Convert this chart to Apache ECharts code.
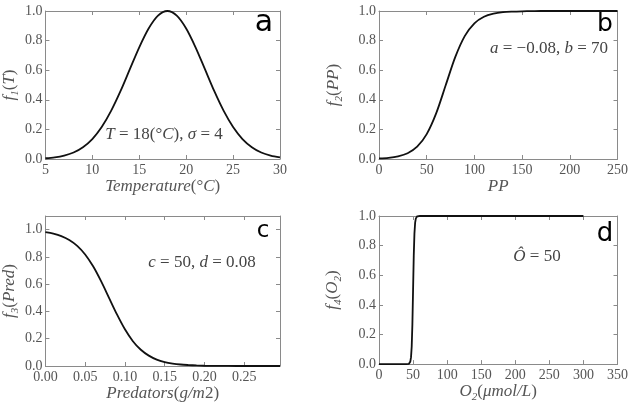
<!DOCTYPE html>
<html>
<head>
<meta charset="utf-8">
<script src="https://cdn.jsdelivr.net/npm/echarts@6/dist/echarts.min.js"></script>
<style>
  html, body { margin: 0; background: #fff; }
  #chart { width: 631px; height: 404px; }
</style>
</head>
<body>
<div id="chart"></div>
<script>
// 数据
const tempX = [5, 6, 7, 8, 9, 10, 11, 12, 13, 14, 15, 16, 17, 18, 19, 20, 21, 22, 23, 24, 25, 26, 27, 28, 29, 30];
const tempY = [0.005, 0.011, 0.023, 0.044, 0.080, 0.135, 0.216, 0.325, 0.458, 0.607, 0.755, 0.882, 0.969, 1.0, 0.969, 0.882, 0.755, 0.607, 0.458, 0.325, 0.216, 0.135, 0.080, 0.044, 0.023, 0.011];

const ppX = [0, 10, 20, 30, 40, 50, 60, 70, 80, 90, 100, 110, 120, 130, 140, 150, 160, 170, 180, 190, 200, 210, 220, 230, 240, 250];
const ppY = [0.004, 0.008, 0.018, 0.039, 0.083, 0.168, 0.310, 0.500, 0.690, 0.832, 0.917, 0.961, 0.982, 0.992, 0.996, 0.998, 0.999, 1, 1, 1, 1, 1, 1, 1, 1, 1];

const predX = [0, 0.01, 0.02, 0.03, 0.04, 0.05, 0.06, 0.07, 0.08, 0.09, 0.10, 0.11, 0.12, 0.13, 0.14, 0.15, 0.16, 0.17, 0.18, 0.19, 0.20, 0.22, 0.24, 0.26, 0.28, 0.295];
const predY = [0.982, 0.971, 0.953, 0.924, 0.881, 0.818, 0.731, 0.622, 0.500, 0.378, 0.269, 0.182, 0.119, 0.076, 0.047, 0.029, 0.018, 0.011, 0.007, 0.004, 0.002, 0.001, 0, 0, 0, 0];

const o2X = [0, 10, 20, 30, 40, 42, 44, 45, 46, 47, 48, 49, 50, 51, 52, 53, 54, 55, 56, 58, 60, 100, 150, 200, 250, 300];
const o2Y = [0, 0, 0, 0, 0, 0, 0.002, 0.007, 0.018, 0.047, 0.119, 0.269, 0.500, 0.731, 0.881, 0.953, 0.982, 0.993, 0.998, 1, 1, 1, 1, 1, 1, 1];

// 坐标轴刻度
const xTicks = [[5, 30, 5, 0], [0, 250, 50, 0], [0, 0.295, 0.05, 2], [0, 350, 50, 0]];
const yTicks = [[0, 1, 0.2, 1], [0, 1, 0.2, 1], [0, 1.1, 0.2, 1], [0, 1, 0.2, 1]];

// 坐标轴名称
const xNames = ['{i|Temperature}{n|(°}{i|C}{n|)}', '{i|PP}', '{i|Predators}{n|(}{i|g/m}{n|2)}', '{i|O}{s|2}{n|(}{i|μmol/L}{n|)}'];
const yNames = ['{i|f}{s|1}{n|(}{i|T}{n|)}', '{i|f}{s|2}{n|(}{i|PP}{n|)}', '{i|f}{s|3}{n|(}{i|Pred}{n|)}', '{i|f}{s|4}{n|(}{i|O}{s|2}{n|)}'];

const frame = '#8a8a8a';
const textColor = '#555';
const serif = 'Liberation Serif';

const mathRich = {
  i: { fontFamily: serif, fontStyle: 'italic', fontSize: 17, color: textColor, lineHeight: 19 },
  n: { fontFamily: serif, fontSize: 17, color: textColor, lineHeight: 19 },
  s: { fontFamily: serif, fontStyle: 'italic', fontSize: 11, color: textColor, lineHeight: 19, verticalAlign: 'bottom', padding: [0, 0, -2, 0] }
};

const annoRich = {
  i: { fontFamily: serif, fontStyle: 'italic', fontSize: 17, fill: '#444', color: '#444' },
  n: { fontFamily: serif, fontSize: 17, fill: '#444', color: '#444' }
};

const grids = [
  { left: 41, top: 11, width: 239, height: 148 },
  { left: 379, top: 11, width: 239, height: 148 },
  { left: 41, top: 216, width: 239, height: 150 },
  { left: 379, top: 216, width: 239, height: 150 }
];

const xGaps = [16, 16, 16, 16];
const yGaps = [26, 36, 26, 37];

const line = { show: true, onZero: false, lineStyle: { color: frame, width: 1 } };
const tick = { show: true, inside: true, length: 4, lineStyle: { color: frame } };

const xAxis = [];
const yAxis = [];
xTicks.forEach(([min, max, interval, digits], i) => {
  xAxis.push({
    type: 'value', gridIndex: i, min, max, interval, position: 'bottom',
    axisLine: line, axisTick: tick, splitLine: { show: false },
    axisLabel: { margin: 4, fontFamily: serif, fontSize: 14, color: textColor, showMaxLabel: i !== 2, formatter: v => v.toFixed(digits) },
    name: xNames[i], nameLocation: 'middle', nameGap: xGaps[i], nameTextStyle: { rich: mathRich }
  });
  xAxis.push({
    type: 'value', gridIndex: i, min, max, interval, position: 'top',
    axisLine: line, axisTick: tick, splitLine: { show: false }, axisLabel: { show: false }
  });
});
yTicks.forEach(([min, max, interval, digits], i) => {
  yAxis.push({
    type: 'value', gridIndex: i, min, max, interval, position: 'left',
    axisLine: line, axisTick: tick, splitLine: { show: false },
    axisLabel: { margin: 3, fontFamily: serif, fontSize: 14, color: textColor, showMaxLabel: i !== 2, formatter: v => v.toFixed(digits) },
    name: yNames[i], nameLocation: 'middle', nameGap: yGaps[i], nameRotate: 90, nameTextStyle: { rich: mathRich }
  });
  yAxis.push({
    type: 'value', gridIndex: i, min, max, interval, position: 'right',
    axisLine: line, axisTick: tick, splitLine: { show: false }, axisLabel: { show: false }
  });
});

const curves = [[tempX, tempY, 0.3], [ppX, ppY, 0.3], [predX, predY, 0.3], [o2X, o2Y, false]];
const series = curves.map(([xs, ys, smooth], i) => ({
  type: 'line',
  xAxisIndex: i * 2,
  yAxisIndex: i * 2,
  data: xs.map((x, k) => [x, ys[k]]),
  smooth,
  showSymbol: false,
  clip: false,
  lineStyle: { color: '#111', width: 1.8 }
}));

// 注释文字
const anno = (x, y, text) => ({
  type: 'text', x, y, z: 10,
  style: { text, rich: annoRich, align: 'center', verticalAlign: 'middle', textAlign: 'center', textVerticalAlign: 'middle' }
});
const letter = (x, y, text, size) => ({
  type: 'text', x, y, z: 10,
  style: { text, font: `${size}px "DejaVu Sans"`, fill: '#000', align: 'center', verticalAlign: 'middle', textAlign: 'center', textVerticalAlign: 'middle' }
});

const chart = echarts.init(document.getElementById('chart'));
chart.setOption({
  animation: false,
  grid: grids,
  xAxis,
  yAxis,
  series,
  graphic: [
    anno(164, 135, '{i|T}{n| = 18(°}{i|C}{n|), }{i|σ}{n| = 4}'),
    anno(549, 49, '{i|a}{n| = −0.08, }{i|b}{n| = 70}'),
    anno(202, 263, '{i|c}{n| = 50, }{i|d}{n| = 0.08}'),
    anno(537, 257, '{i|Ô}{n| = 50}'),
    letter(264, 23, 'a', 30),
    letter(605, 24, 'b', 25),
    letter(263, 231, 'c', 23),
    letter(605, 234, 'd', 26)
  ]
});
</script>
</body>
</html>
